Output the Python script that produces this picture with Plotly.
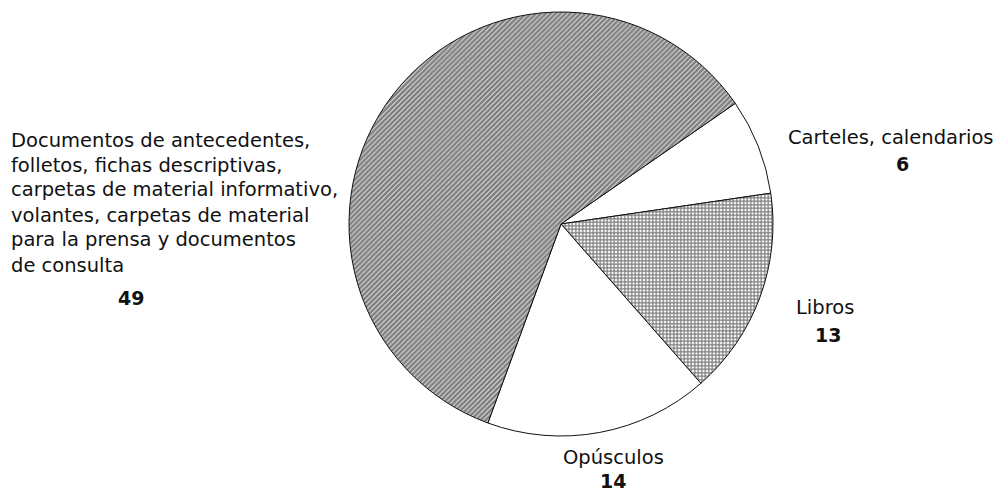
import plotly.graph_objects as go

categories = ["Carteles, calendarios", "Libros", "Opúsculos",
              "Documentos de antecedentes, folletos, fichas descriptivas, carpetas de material informativo, volantes, carpetas de material para la prensa y documentos de consulta"]
values = [6, 13, 14, 49]
doc_lines = ["Documentos de antecedentes,", "folletos, fichas descriptivas,",
             "carpetas de material informativo,", "volantes, carpetas de material",
             "para la prensa y documentos", "de consulta"]

W, H = 1004, 494
cx, cy, r = 561, 224, 212

fig = go.Figure(go.Pie(
    labels=categories,
    values=values,
    sort=False,
    direction="clockwise",
    rotation=55.3,
    textinfo="none",
    hoverinfo="label+value",
    showlegend=False,
    marker=dict(
        colors=["white", "white", "white", "white"],
        line=dict(color="#111111", width=1),
        pattern=dict(
            shape=["", "+", "", "/"],
            size=[4, 3.5, 4, 3.5],
            solidity=[0.3, 0.6, 0.3, 0.78],
            fgcolor=["#000000", "#000000", "#000000", "#000000"],
            bgcolor=["white", "white", "white", "white"],
            fillmode="overlay",
        ),
    ),
    domain=dict(x=[(cx - r) / W, (cx + r) / W], y=[(H - cy - r) / H, (H - cy + r) / H]),
))

fam = "DejaVu Sans, Liberation Sans, Arial, sans-serif"
font = dict(family=fam, size=19.5, color="#111111")
bold = dict(family=fam, size=19, color="#111111")


def add(x, y, text, f, xanchor="center"):
    return dict(x=x / W, y=1 - y / H, xref="paper", yref="paper", text=text,
                showarrow=False, xanchor=xanchor, yanchor="middle", font=f)


ann = []
y0, dy = 140, 25
for i, line in enumerate(doc_lines):
    ann.append(add(9, y0 + i * dy, line, font, xanchor="left"))
ann.append(add(131, 298, "<b>%d</b>" % values[3], bold))
ann.append(add(891, 137, categories[0], font))
ann.append(add(902, 164, "<b>%d</b>" % values[0], bold))
ann.append(add(825, 307, categories[1], font))
ann.append(add(828, 335, "<b>%d</b>" % values[1], bold))
ann.append(add(613, 457, categories[2], font))
ann.append(add(613, 481, "<b>%d</b>" % values[2], bold))

fig.update_layout(
    width=W, height=H,
    margin=dict(l=0, r=0, t=0, b=0),
    paper_bgcolor="white", plot_bgcolor="white",
    annotations=ann,
)

fig.write_html("out.html", config={"displayModeBar": False},
               post_script="document.body.style.margin='0px';")
